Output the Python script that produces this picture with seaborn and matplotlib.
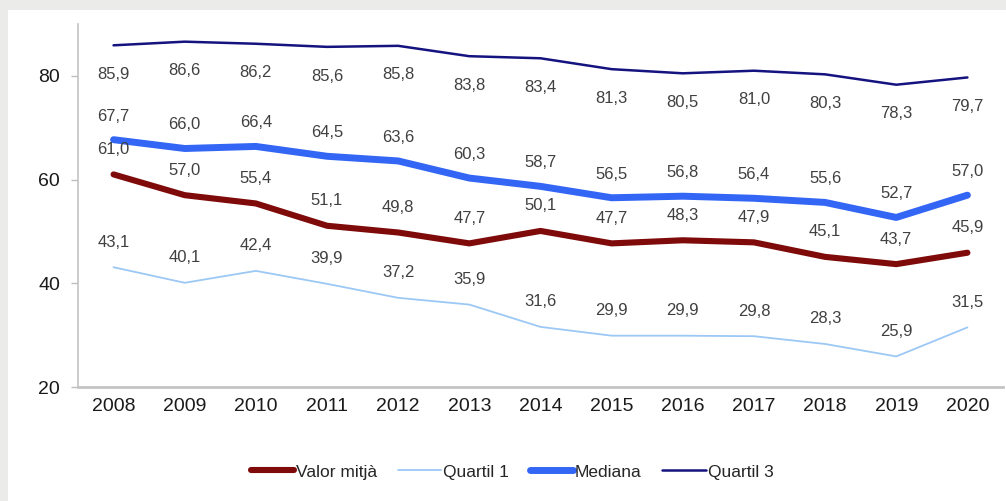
import pandas as pd
import matplotlib.pyplot as plt
import seaborn as sns
from matplotlib.patches import Rectangle
from matplotlib.ticker import FixedLocator

# Dades llegides del gràfic
anys = ['2008', '2009', '2010', '2011', '2012', '2013', '2014',
        '2015', '2016', '2017', '2018', '2019', '2020']
valor_mitja = [61.0, 57.0, 55.4, 51.1, 49.8, 47.7, 50.1, 47.7, 48.3, 47.9, 45.1, 43.7, 45.9]
quartil_1 = [43.1, 40.1, 42.4, 39.9, 37.2, 35.9, 31.6, 29.9, 29.9, 29.8, 28.3, 25.9, 31.5]
mediana = [67.7, 66.0, 66.4, 64.5, 63.6, 60.3, 58.7, 56.5, 56.8, 56.4, 55.6, 52.7, 57.0]
quartil_3 = [85.9, 86.6, 86.2, 85.6, 85.8, 83.8, 83.4, 81.3, 80.5, 81.0, 80.3, 78.3, 79.7]

sns.set_style('white')
plt.rcParams['font.family'] = ['Liberation Sans', 'DejaVu Sans']

fig = plt.figure(figsize=(10.06, 5.01), dpi=100, facecolor='#ebebea')
# panell blanc amb la vora grisa a dalt i a l'esquerra
fig.patches.append(Rectangle((8 / 1006, 0), 1, 1 - 10 / 501, transform=fig.transFigure,
                             facecolor='white', edgecolor='none', zorder=-1))
ax = fig.add_axes([0.0775, 0.2275, 0.9195, 0.7245])
ax.set_facecolor('white')

series = [
    ('Valor mitjà', valor_mitja, '#7f0a0a', 4.4, 18),
    ('Quartil 1', quartil_1, '#9cc8f5', 1.3, 18),
    ('Mediana', mediana, '#3366f5', 5.0, 17),
    ('Quartil 3', quartil_3, '#14137f', 1.8, -21),
]

x_pos = list(range(len(anys)))
for nom, valors, color, lw, offset in series:
    df = pd.DataFrame({'pos': x_pos, 'valor': valors})
    sns.lineplot(data=df, x='pos', y='valor', color=color, linewidth=lw,
                 label=nom, ax=ax, solid_capstyle='round')
    for xi, v in zip(x_pos, valors):
        ax.annotate(f'{v:.1f}'.replace('.', ','), (xi, v), xytext=(0, offset),
                    textcoords='offset points', ha='center', va='center',
                    fontsize=12, color='#404040')

ax.set_xlim(-0.5, len(anys) - 0.5)
ax.set_ylim(20, 90)
ax.set_yticks([20, 40, 60, 80])
ax.set_xticks(x_pos)
ax.set_xticklabels(anys)
ax.xaxis.set_minor_locator(FixedLocator([i - 0.5 for i in range(len(anys) + 1)]))
ax.tick_params(axis='x', which='major', length=0, pad=8, labelsize=14, labelcolor='#1a1a1a')
ax.tick_params(axis='x', which='minor', length=4, width=1, color='#bdbdbd', direction='out')
ax.tick_params(axis='y', length=5, width=1, color='#bdbdbd', pad=8, labelsize=14,
               labelcolor='#1a1a1a', left=True)
ax.set_xlabel('')
ax.set_ylabel('')

for side in ['top', 'right']:
    ax.spines[side].set_visible(False)
ax.spines['left'].set_color('#c4c4c4')
ax.spines['left'].set_linewidth(1.2)
ax.spines['bottom'].set_color('#c4c4c4')
ax.spines['bottom'].set_linewidth(2.0)

handles, labels = ax.get_legend_handles_labels()
ax.get_legend().remove()
fig.legend(handles, labels, loc='center', bbox_to_anchor=(0.509, 0.058), ncol=4,
           frameon=False, fontsize=12.5, handlelength=2.5, handletextpad=0.1,
           columnspacing=1.2)

plt.savefig('out.png', dpi=100, facecolor=fig.get_facecolor())
